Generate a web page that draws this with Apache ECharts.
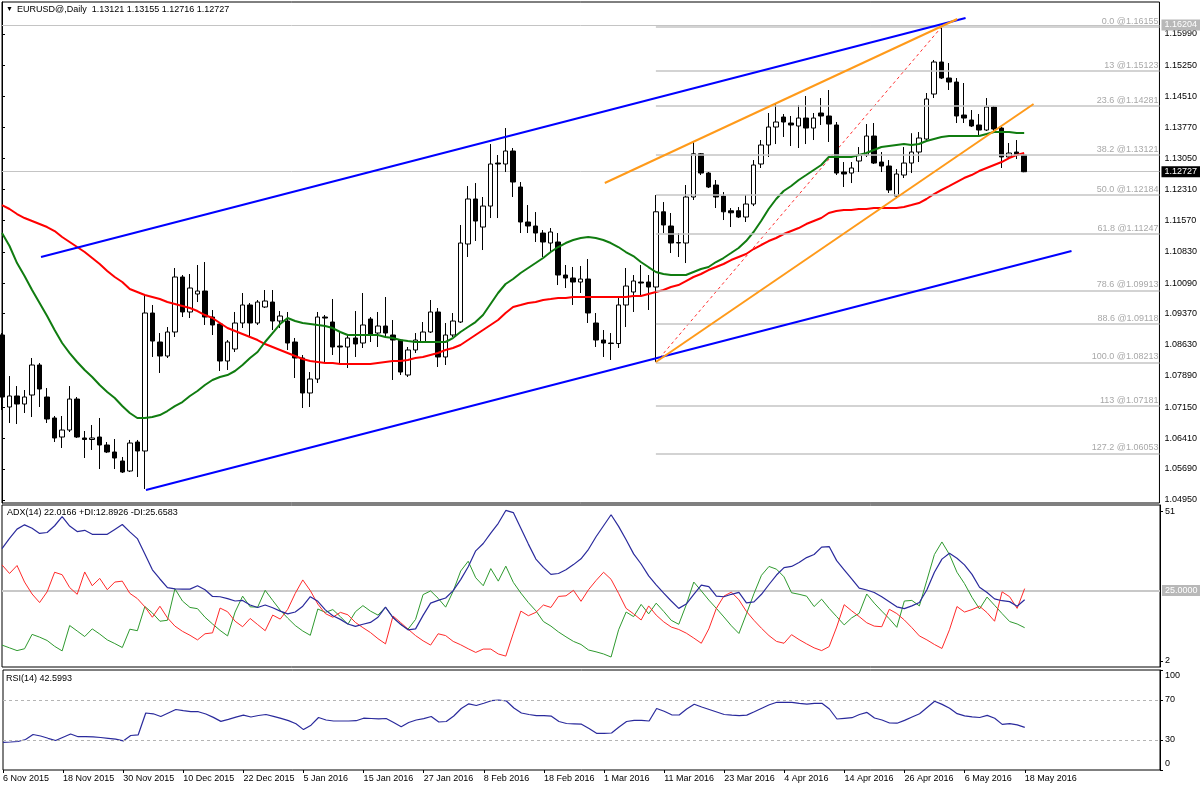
<!DOCTYPE html>
<html><head><meta charset="utf-8">
<script src="https://cdn.jsdelivr.net/npm/echarts@6/dist/echarts.min.js"></script>
<style>html,body{margin:0;padding:0;background:#fff}#c{width:1200px;height:790px}</style>
</head><body><div id="c"></div><script>
// ---------- data ----------
const dateLabels = ['6 Nov 2015','18 Nov 2015','30 Nov 2015','10 Dec 2015','22 Dec 2015','5 Jan 2016','15 Jan 2016','27 Jan 2016','8 Feb 2016','18 Feb 2016','1 Mar 2016','11 Mar 2016','23 Mar 2016','4 Apr 2016','14 Apr 2016','26 Apr 2016','6 May 2016','18 May 2016'];
const barsPerLabel = 8;
const slotCount = 155; // bars + empty chart-shift area
const categories = Array.from({length: slotCount}, (_, i) => String(i));

const opens = [1.08859,1.07153,1.07414,1.07224,1.07437,1.08148,1.07390,1.06893,1.06442,1.06608,
1.07342,1.06419,1.06383,1.06442,1.06253,1.06087,1.05874,1.05637,1.06324,1.06111,
1.09380,1.08693,1.08361,1.08930,1.10233,1.09404,1.09830,1.09901,1.09285,1.09119,
1.08243,1.08527,1.09143,1.09570,1.09143,1.09522,1.09640,1.09190,1.09190,1.08693,
1.08314,1.07485,1.07816,1.09285,1.09167,1.08598,1.08575,1.08788,1.08669,1.09238,
1.08906,1.09072,1.08859,1.08740,1.07911,1.08504,1.08693,1.08930,1.09404,1.08338,
1.08859,1.09167,1.11015,1.12081,1.11417,1.11914,1.12933,1.12910,1.13218,1.12365,
1.11536,1.11441,1.11275,1.11038,1.11062,1.10280,1.10209,1.10114,1.10185,1.09143,
1.08740,1.08669,1.08657,1.09570,1.09878,1.10114,1.10114,1.09996,1.11778,1.11441,
1.11038,1.11038,1.12128,1.13152,1.12696,1.12412,1.12152,1.11802,1.11802,1.11654,
1.11962,1.12910,1.13360,1.13786,1.14023,1.13881,1.13810,1.13999,1.13762,1.14118,
1.14047,1.13834,1.12720,1.12696,1.12981,1.13123,1.13573,1.12957,1.12862,1.12152,
1.12649,1.12933,1.13194,1.13502,1.14568,1.15326,1.14947,1.14852,1.14070,1.13952,
1.13834,1.13715,1.14260,1.13762,1.13076,1.13194,1.13121];
const closes = [1.07390,1.07414,1.07224,1.07390,1.08148,1.07579,1.06869,1.06419,1.06608,1.07342,
1.06442,1.06383,1.06419,1.06253,1.06087,1.05945,1.05613,1.06300,1.06111,1.09380,
1.08716,1.08361,1.08930,1.10233,1.09404,1.09972,1.09901,1.09285,1.09096,1.08243,
1.08693,1.09143,1.09570,1.09143,1.09640,1.09664,1.09190,1.09309,1.08669,1.08314,
1.07485,1.07816,1.09285,1.09261,1.08575,1.08575,1.08788,1.08646,1.09096,1.08882,
1.09072,1.08906,1.08740,1.07982,1.08504,1.08740,1.08930,1.09404,1.08338,1.08859,
1.09190,1.11038,1.12081,1.11559,1.11914,1.12910,1.12910,1.13218,1.12483,1.11536,
1.11441,1.11275,1.11062,1.11299,1.10280,1.10209,1.10114,1.10185,1.09380,1.08740,
1.08669,1.08657,1.09570,1.10019,1.10138,1.10090,1.09996,1.11778,1.11465,1.11038,
1.11050,1.12128,1.13152,1.12696,1.12365,1.12128,1.11778,1.11754,1.11654,1.11962,
1.12886,1.13360,1.13786,1.13905,1.13905,1.13834,1.13999,1.13762,1.13999,1.14047,
1.13857,1.12696,1.12673,1.12815,1.13123,1.13573,1.12933,1.12862,1.12294,1.12673,
1.12933,1.13194,1.13526,1.14450,1.15326,1.14947,1.14852,1.14047,1.13999,1.13810,
1.13715,1.14260,1.13739,1.13076,1.13170,1.13123,1.12727];
const lows = [1.07082,1.06774,1.06750,1.07011,1.06916,1.07153,1.06774,1.06324,1.06182,1.06561,
1.06419,1.05945,1.06135,1.05684,1.06063,1.05684,1.05590,1.05613,1.05495,1.05211,
1.08338,1.07959,1.08314,1.08811,1.09285,1.09261,1.09640,1.09096,1.08859,1.08006,
1.08030,1.08456,1.09025,1.08835,1.09096,1.09498,1.08977,1.09025,1.08504,1.07840,
1.07129,1.07153,1.07722,1.08195,1.08385,1.08195,1.08077,1.08338,1.08551,1.08693,
1.08575,1.08788,1.07793,1.07911,1.07864,1.08432,1.08669,1.08906,1.08101,1.08148,
1.08811,1.09143,1.10707,1.11086,1.10872,1.11630,1.11630,1.12720,1.12128,1.11275,
1.11275,1.11062,1.10707,1.10825,1.10043,1.09972,1.09570,1.09854,1.09143,1.08575,
1.08338,1.08267,1.08551,1.09048,1.09404,1.09806,1.09451,1.08219,1.11275,1.10801,
1.10707,1.10564,1.12057,1.12649,1.12341,1.11867,1.11583,1.11417,1.11630,1.11536,
1.11914,1.12815,1.13076,1.13383,1.13550,1.13336,1.13289,1.13383,1.13478,1.13834,
1.13431,1.12649,1.12365,1.12459,1.12720,1.13076,1.12910,1.12720,1.12223,1.12128,
1.12578,1.12696,1.12957,1.13478,1.14473,1.14923,1.14663,1.13881,1.13881,1.13786,
1.13550,1.13692,1.13692,1.12815,1.13028,1.13028,1.12716];
const highs = [1.08906,1.07887,1.07650,1.07556,1.08314,1.08195,1.07603,1.06940,1.06940,1.07650,
1.07390,1.06585,1.06727,1.06893,1.06324,1.06395,1.05969,1.06372,1.06372,1.09806,
1.09570,1.08906,1.09048,1.10446,1.10280,1.10304,1.10517,1.10588,1.09451,1.09143,
1.08740,1.09404,1.09854,1.09617,1.09688,1.09925,1.09925,1.09427,1.09404,1.08788,
1.08385,1.07982,1.09404,1.09333,1.09712,1.08930,1.08859,1.09427,1.09854,1.09285,
1.09404,1.09759,1.09214,1.08764,1.08575,1.08906,1.09167,1.09688,1.09498,1.09143,
1.09380,1.11465,1.12388,1.12459,1.12128,1.13383,1.13123,1.13762,1.13289,1.12483,
1.11938,1.11772,1.11346,1.11393,1.11275,1.10517,1.10470,1.10493,1.10659,1.09380,
1.08977,1.08906,1.09759,1.10446,1.10280,1.10517,1.10280,1.12175,1.12009,1.11749,
1.11275,1.12412,1.13436,1.13170,1.12720,1.12531,1.12246,1.11867,1.11891,1.12175,
1.13004,1.13478,1.14118,1.14355,1.14094,1.14047,1.14308,1.14521,1.14118,1.14473,
1.14663,1.13905,1.12957,1.12957,1.13312,1.13857,1.13881,1.13194,1.13004,1.12791,
1.13312,1.13640,1.13668,1.14592,1.15374,1.16155,1.15302,1.14947,1.14829,1.14189,
1.14094,1.14473,1.14284,1.13786,1.13407,1.13478,1.13155];

const maGreen = [1.11275,1.10967,1.10564,1.10256,1.09925,1.09617,1.09309,1.08977,1.08669,1.08432,
1.08219,1.08029,1.07863,1.07674,1.07508,1.07366,1.07176,1.07011,1.06892,1.06892,
1.06916,1.06963,1.07058,1.07176,1.07271,1.07413,1.07532,1.07674,1.07792,1.07863,
1.07911,1.08006,1.08148,1.08314,1.08456,1.08693,1.08906,1.09119,1.09261,1.09190,
1.09143,1.09119,1.09095,1.09072,1.09024,1.08930,1.08859,1.08859,1.08859,1.08859,
1.08859,1.08811,1.08787,1.08740,1.08716,1.08693,1.08693,1.08693,1.08693,1.08693,
1.08787,1.08930,1.09048,1.09166,1.09332,1.09593,1.09854,1.10067,1.10185,1.10327,
1.10446,1.10564,1.10683,1.10825,1.10943,1.11038,1.11109,1.11157,1.11180,1.11157,
1.11109,1.11038,1.10943,1.10825,1.10730,1.10588,1.10469,1.10351,1.10304,1.10280,
1.10280,1.10280,1.10351,1.10422,1.10469,1.10588,1.10683,1.10801,1.10920,1.11085,
1.11299,1.11559,1.11844,1.12081,1.12270,1.12388,1.12531,1.12649,1.12768,1.12886,
1.13076,1.13076,1.13076,1.13076,1.13123,1.13170,1.13241,1.13312,1.13336,1.13360,
1.13383,1.13360,1.13383,1.13455,1.13502,1.13549,1.13573,1.13573,1.13573,1.13573,
1.13573,1.13620,1.13668,1.13668,1.13668,1.13644,1.13644];
const maRed = [1.11938,1.11844,1.11725,1.11630,1.11559,1.11488,1.11417,1.11322,1.11180,1.11062,
1.10943,1.10825,1.10683,1.10541,1.10375,1.10233,1.10114,1.09948,1.09877,1.09806,
1.09759,1.09711,1.09640,1.09593,1.09546,1.09498,1.09427,1.09332,1.09261,1.09143,
1.09024,1.08953,1.08882,1.08811,1.08740,1.08645,1.08574,1.08503,1.08432,1.08361,
1.08290,1.08243,1.08219,1.08195,1.08195,1.08171,1.08171,1.08171,1.08171,1.08171,
1.08195,1.08219,1.08243,1.08243,1.08266,1.08314,1.08337,1.08385,1.08432,1.08503,
1.08550,1.08622,1.08740,1.08859,1.08977,1.09095,1.09214,1.09380,1.09522,1.09569,
1.09617,1.09640,1.09688,1.09711,1.09735,1.09735,1.09759,1.09759,1.09759,1.09759,
1.09759,1.09759,1.09759,1.09759,1.09782,1.09782,1.09830,1.09877,1.09925,1.09996,
1.10043,1.10138,1.10233,1.10304,1.10398,1.10469,1.10541,1.10635,1.10706,1.10777,
1.10896,1.10991,1.11085,1.11157,1.11251,1.11322,1.11393,1.11488,1.11559,1.11630,
1.11749,1.11796,1.11820,1.11820,1.11844,1.11844,1.11867,1.11867,1.11867,1.11867,
1.11891,1.11938,1.11986,1.12081,1.12199,1.12294,1.12388,1.12483,1.12578,1.12649,
1.12744,1.12815,1.12886,1.12957,1.13052,1.13123,1.13170];

const adx = [38.7,42.1,45.1,46.5,45.4,43.7,44.0,46.2,49.2,46.1,
44.3,44.7,43.4,43.4,43.4,45.0,46.6,44.2,42.0,37.0,
31.8,28.8,26.0,25.6,25.5,25.5,26.6,25.3,23.1,23.0,
22.4,21.6,21.8,20.3,19.5,20.3,19.4,18.3,17.4,18.0,
19.9,23.0,21.5,18.7,16.8,15.6,14.1,13.3,14.0,14.6,
16.3,19.6,16.2,14.0,12.2,12.5,16.9,20.9,21.8,22.6,
25.0,28.6,32.8,38.0,40.4,43.8,47.0,51.2,50.5,45.4,
40.2,35.3,32.6,30.3,30.6,31.8,33.5,35.4,38.5,42.6,
46.2,49.8,46.0,41.6,37.0,33.7,29.8,26.9,24.2,21.6,
19.2,20.6,23.8,26.8,26.3,23.2,23.0,23.8,24.4,21.0,
21.3,23.8,27.0,30.1,32.5,32.9,34.2,35.8,36.8,39.2,
39.4,34.8,31.8,28.8,25.8,25.2,24.4,23.0,21.4,19.7,
19.1,20.0,21.1,25.3,31.0,35.3,37.2,35.6,33.4,30.3,
26.1,24.4,22.3,21.7,21.4,19.9,22.02];
const plusDI = [7.2,6.3,5.4,6.0,10.7,9.8,8.7,6.8,5.3,13.6,
11.8,10.0,12.5,10.8,8.9,7.7,6.4,12.4,11.9,19.8,
17.7,15.0,15.3,25.6,21.6,19.5,19.1,16.3,14.1,12.0,
10.2,18.0,23.2,19.7,19.6,25.1,21.8,18.6,16.0,13.6,
11.8,10.4,19.0,17.9,18.8,16.5,14.0,18.1,20.1,18.3,
17.0,19.6,16.2,14.0,12.4,15.6,23.7,24.9,22.5,19.6,
24.8,31.4,34.6,29.2,26.6,32.2,28.1,33.0,27.7,24.2,
21.1,18.4,14.9,13.4,11.5,9.9,8.4,7.4,5.6,5.0,
4.3,3.3,12.2,18.0,16.5,20.5,17.4,20.9,18.2,15.3,
14.0,20.4,27.8,24.9,21.9,19.2,16.4,13.5,11.0,17.4,
24.0,30.0,32.9,32.0,29.5,24.3,23.8,23.2,19.8,22.2,
19.2,16.5,13.8,16.1,17.6,23.9,20.9,18.3,15.8,13.0,
21.6,21.8,20.0,28.4,36.8,40.9,36.8,31.0,27.3,22.8,
19.0,22.9,20.2,17.5,14.9,14.1,12.89];
const minusDI = [33.4,30.6,33.2,27.8,23.9,21.1,24.6,31.0,30.2,26.0,
23.8,31.1,26.6,29.0,25.3,27.8,28.1,24.1,22.4,19.7,
16.3,19.9,16.1,13.4,11.7,10.4,8.9,10.9,11.2,19.3,
18.1,15.0,13.2,15.9,13.9,11.9,17.0,15.7,18.9,24.1,
28.5,25.0,20.6,17.5,16.3,17.9,17.1,14.6,12.9,11.3,
9.3,7.6,16.7,14.6,12.4,10.3,8.6,7.2,10.9,10.3,
8.4,7.3,6.0,4.8,5.9,5.9,4.3,3.6,11.1,18.3,
16.8,17.9,20.3,19.5,23.1,23.3,25.1,21.5,25.3,28.3,
31.0,28.7,24.1,19.2,17.4,15.4,20.0,17.0,14.8,13.1,
12.3,11.1,9.5,7.8,12.5,19.2,23.2,24.5,22.0,18.2,
15.3,12.7,10.3,8.4,7.8,10.6,9.0,7.6,6.3,5.4,
6.7,13.1,20.4,18.4,16.5,14.5,13.4,13.2,18.9,17.5,
15.4,12.9,10.2,8.9,7.4,6.1,12.2,19.8,18.0,18.8,
19.9,17.8,15.0,24.6,23.0,19.2,25.66];
const rsi = [27.7,28.0,28.5,30.5,35.5,34.0,31.7,29.5,32.8,36.0,
33.3,33.3,33.2,32.5,31.7,30.8,29.1,34.5,35.2,57.0,
56.2,53.5,57.0,60.5,59.3,58.3,58.3,56.0,52.6,48.6,
50.7,52.9,54.9,53.0,54.5,55.5,53.7,51.6,49.4,46.3,
40.4,44.8,52.5,50.0,49.0,49.0,49.0,49.3,51.8,51.5,
51.2,51.5,47.5,43.3,47.5,50.0,51.4,53.5,48.0,48.5,
54.0,61.5,66.2,64.5,66.8,69.3,70.0,69.0,62.0,57.0,
55.5,54.3,54.3,53.8,48.5,46.5,46.2,45.8,41.5,36.7,
36.7,37.0,43.0,48.5,49.6,49.7,49.0,61.5,58.7,55.2,
55.0,61.0,65.8,63.0,60.5,58.0,55.5,54.8,54.4,54.9,
58.2,61.8,65.2,67.7,67.7,67.6,66.6,65.8,66.7,66.7,
61.0,51.0,51.7,52.3,55.5,57.6,52.0,50.0,47.0,46.8,
49.6,53.0,56.3,62.5,68.7,65.6,61.8,56.3,54.2,53.2,
52.5,54.6,51.8,45.6,46.4,45.1,42.6];

const priceTicks = [1.15990,1.15250,1.14510,1.13770,1.13050,1.12310,1.11570,1.10830,1.10090,1.09370,1.08630,1.07890,1.07150,1.06410,1.05690,1.04950];
const adxTicks = [2, 51];
const adxLevel = 25;
const rsiTicks = [0, 30, 70, 100];
const rsiLevels = [70, 30];
const highLine = 1.16204;
const lastPrice = 1.12727;

const fibLevels = ['0.0','13','23.6','38.2','50.0','61.8','78.6','88.6','100.0','113','127.2'];
const fibPrices = [1.16155,1.15123,1.14281,1.13121,1.12184,1.11247,1.09913,1.09118,1.08213,1.07181,1.06053];
const fibStart = [87, 1.08213];
const fibEnd = [125, 1.16155];

// trend lines: [barIndex, price] pairs
const blueUpper = [[5.19, 1.10706], [128.2, 1.16369]];
const blueLower = [[19.15, 1.05187], [142.3, 1.10849]];
const orangeUpper = [[80.2, 1.12460], [127.1, 1.16345]];
const orangeLower = [[87.0, 1.08219], [137.25, 1.14331]];

// ---------- chart ----------
const font = 'Liberation Sans, Arial, sans-serif';
const candles = opens.map((o, i) => [o, closes[i], lows[i], highs[i]]);
const showDate = (idx) => idx % barsPerLabel === 0 && idx / barsPerLabel < dateLabels.length;

function catAxis(gridIndex, labels) {
  return {
    type: 'category', gridIndex, data: categories, boundaryGap: false,
    axisLine: {show: false},
    axisTick: {show: labels, interval: showDate, length: 3, lineStyle: {color: '#000'}},
    axisLabel: {show: labels, interval: showDate, align: 'left', margin: 4, fontSize: 9, color: '#000', fontFamily: font,
      formatter: (v, idx) => dateLabels[Math.round(idx / barsPerLabel)]},
    splitLine: {show: false}
  };
}
function rightAxis(gridIndex, min, max, ticks, fmt, labelExtra) {
  return {
    type: 'value', gridIndex, position: 'right', min, max,
    axisLine: {show: true, lineStyle: {color: '#000', width: 1}},
    axisTick: {show: true, customValues: ticks, length: 3, lineStyle: {color: '#000'}},
    axisLabel: Object.assign({customValues: ticks, formatter: fmt, fontSize: 9, color: '#000', margin: 5, fontFamily: font}, labelExtra || {}),
    splitLine: {show: false}
  };
}
const trend = (data, color) => ({
  type: 'line', xAxisIndex: 3, yAxisIndex: 0, data, showSymbol: false, silent: true, z: 6,
  lineStyle: {color, width: 2}
});
const titleText = {fontSize: 9, color: '#000', fontWeight: 'normal', fontFamily: font};

const option = {
  animation: false,
  backgroundColor: '#fff',
  title: [
    {text: '▼', left: 6, top: 6, padding: 0, textStyle: Object.assign({}, titleText, {fontSize: 7})},
    {text: 'EURUSD@,Daily  1.13121 1.13155 1.12716 1.12727', left: 17, top: 5, padding: 0, textStyle: titleText},
    {text: 'ADX(14) 22.0166 +DI:12.8926 -DI:25.6583', left: 7, top: 508, padding: 0, textStyle: titleText},
    {text: 'RSI(14) 42.5993', left: 6, top: 674, padding: 0, textStyle: titleText}
  ],
  grid: [
    {left: 2, top: 2, width: 1158, height: 501, show: true, borderColor: '#000', borderWidth: 1},
    {left: 2, top: 505, width: 1158, height: 162, show: true, borderColor: '#000', borderWidth: 1},
    {left: 2, top: 670, width: 1158, height: 100, show: true, borderColor: '#000', borderWidth: 1}
  ],
  xAxis: [
    catAxis(0, false), catAxis(1, false), catAxis(2, true),
    {type: 'value', gridIndex: 0, min: 0, max: slotCount - 1, show: false}
  ],
  yAxis: [
    rightAxis(0, 1.04879, 1.16748, priceTicks, v => v.toFixed(5)),
    rightAxis(1, 0.04, 52.98, adxTicks, v => String(v)),
    rightAxis(2, 0, 100, rsiTicks,
      v => v === 100 ? '{top|100}' : v === 0 ? '{bot|0}' : String(v),
      {rich: {top: {padding: [12, 0, 0, 0], fontSize: 9, fontFamily: font, color: '#000'},
              bot: {padding: [0, 0, 12, 0], fontSize: 9, fontFamily: font, color: '#000'}}})
  ],
  series: [
    {
      type: 'candlestick', xAxisIndex: 0, yAxisIndex: 0, data: candles, barWidth: 5, z: 3,
      itemStyle: {color: '#fff', color0: '#000', borderColor: '#000', borderColor0: '#000', borderWidth: 1}
    },
    {type: 'line', xAxisIndex: 0, yAxisIndex: 0, data: maRed, showSymbol: false, silent: true, z: 4,
      lineStyle: {color: '#ff0000', width: 2},
      markLine: {
        silent: true, symbol: ['none', 'none'], z: 1, precision: 5,
        data: [
          {yAxis: highLine, lineStyle: {color: '#c4c4c4', width: 1, type: 'solid'},
            label: {position: 'end', distance: 2, formatter: highLine.toFixed(5), color: '#fff', backgroundColor: '#b8b8b8',
              padding: [1, 3], fontSize: 9, fontFamily: font}},
          {yAxis: lastPrice, lineStyle: {color: '#c4c4c4', width: 1, type: 'solid'},
            label: {position: 'end', distance: 2, formatter: lastPrice.toFixed(5), color: '#fff', backgroundColor: '#000',
              padding: [1, 3], fontSize: 9, fontFamily: font}}
        ]
      }},
    {type: 'line', xAxisIndex: 0, yAxisIndex: 0, data: maGreen, showSymbol: false, silent: true, z: 4,
      lineStyle: {color: '#107c10', width: 2}},
    {
      type: 'line', xAxisIndex: 3, yAxisIndex: 0, data: [fibStart, fibEnd], showSymbol: false, silent: true, z: 2,
      lineStyle: {color: '#ff3030', width: 1, type: [3, 3]},
      markLine: {
        silent: true, symbol: ['none', 'none'], precision: 5,
        lineStyle: {color: '#c4c4c4', width: 1.5, type: 'solid'},
        label: {position: 'insideEndTop', distance: 1, formatter: '{b}', color: '#a8a8a8', fontSize: 9, fontFamily: font},
        data: fibLevels.map((l, k) => [
          {coord: [fibStart[0], fibPrices[k]], name: l + ' @' + fibPrices[k].toFixed(5)},
          {coord: [slotCount - 1, fibPrices[k]]}
        ])
      }
    },
    trend(blueUpper, '#0000ff'),
    trend(blueLower, '#0000ff'),
    trend(orangeUpper, '#ff9a1a'),
    trend(orangeLower, '#ff9a1a'),
    {type: 'line', xAxisIndex: 1, yAxisIndex: 1, data: plusDI, showSymbol: false, silent: true,
      lineStyle: {color: '#2f9a2f', width: 1}},
    {type: 'line', xAxisIndex: 1, yAxisIndex: 1, data: minusDI, showSymbol: false, silent: true,
      lineStyle: {color: '#ff2a2a', width: 1}},
    {type: 'line', xAxisIndex: 1, yAxisIndex: 1, data: adx, showSymbol: false, silent: true,
      lineStyle: {color: '#2a2a9c', width: 1.2},
      markLine: {silent: true, symbol: ['none', 'none'], z: 1, precision: 4,
        data: [{yAxis: adxLevel, lineStyle: {color: '#c8c8c8', width: 2, type: 'solid'},
          label: {position: 'end', distance: 2, formatter: adxLevel.toFixed(4), color: '#fff', backgroundColor: '#b8b8b8',
            padding: [1, 3], fontSize: 9, fontFamily: font}}]}},
    {type: 'line', xAxisIndex: 2, yAxisIndex: 2, data: rsi, showSymbol: false, silent: true,
      lineStyle: {color: '#2a2a9c', width: 1.2},
      markLine: {silent: true, symbol: ['none', 'none'], label: {show: false},
        lineStyle: {color: '#b4b4b4', width: 1, type: [3, 3]},
        data: rsiLevels.map(v => ({yAxis: v}))}}
  ]
};
const chart = echarts.init(document.getElementById('c'), null, {renderer: 'canvas'});
chart.setOption(option);
</script></body></html>
